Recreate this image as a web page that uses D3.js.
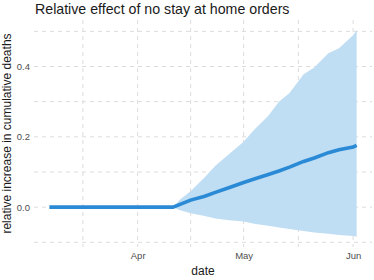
<!DOCTYPE html>
<meta charset="utf-8">
<script src="https://d3js.org/d3.v7.min.js"></script>
<style>
  body { margin: 0; background: #fff; }
  text { font-family: "Liberation Sans", Arial, sans-serif; }
</style>
<div id="chart"></div>
<script>

// data
var dates = ["2020-03-07", "2020-04-11", "2020-04-13", "2020-04-16", "2020-04-20", "2020-04-23",
  "2020-04-27", "2020-05-01", "2020-05-04", "2020-05-08", "2020-05-11", "2020-05-14",
  "2020-05-18", "2020-05-21", "2020-05-25", "2020-05-28", "2020-06-01", "2020-06-02"];
var meanVals  = [0, 0, 0.008, 0.02, 0.031, 0.042, 0.056, 0.07, 0.08, 0.093, 0.103, 0.114,
  0.13, 0.14, 0.155, 0.163, 0.171, 0.176];
var lowerVals = [0, 0, -0.009, -0.017, -0.025, -0.032, -0.037, -0.041, -0.047, -0.053, -0.058, -0.062,
  -0.068, -0.072, -0.076, -0.079, -0.082, -0.084];
var upperVals = [0, 0, 0.022, 0.045, 0.085, 0.118, 0.152, 0.186, 0.22, 0.26, 0.30, 0.325,
  0.378, 0.397, 0.438, 0.452, 0.489, 0.503];
var yTicks = [0.0, 0.2, 0.4];
var yMinor = [-0.1, 0.1, 0.3, 0.5];
var xTicks = ["2020-04-01", "2020-05-01", "2020-06-01"];
var xMinor = ["2020-03-16T12:00", "2020-04-16", "2020-05-16T12:00"];

var parse = function(s) { return new Date(s.length > 10 ? s : s + "T00:00"); };

var data = dates.map(function(d, i) {
  return {date: parse(d), mean: meanVals[i], lo: lowerVals[i], hi: upperVals[i]};
});

var width = 374, height = 280;
var margin = {top: 20, right: 2, bottom: 33, left: 34};

var svg = d3.select("#chart").append("svg")
  .attr("width", width)
  .attr("height", height);

var g = svg.append("g")
  .attr("transform", "translate(" + margin.left + "," + margin.top + ")");

var w = width - margin.left - margin.right,
    h = height - margin.top - margin.bottom;

// ggplot style 5% expansion
var xExt = d3.extent(data, function(d) { return d.date; });
var xPad = (xExt[1] - xExt[0]) * 0.05;
var x = d3.scaleTime()
  .domain([new Date(+xExt[0] - xPad), new Date(+xExt[1] + xPad)])
  .range([0, w]);

var yLo = d3.min(lowerVals), yHi = d3.max(upperVals);
var yPad = (yHi - yLo) * 0.05;
var y = d3.scaleLinear()
  .domain([yLo - yPad, yHi + yPad])
  .range([h, 0]);

// grid
var gridColor = "#dcdcdc";
g.selectAll(".hgrid")
  .data(yTicks.concat(yMinor))
  .enter().append("line")
    .attr("x1", 0).attr("x2", w)
    .attr("y1", function(d) { return y(d); })
    .attr("y2", function(d) { return y(d); })
    .attr("stroke", gridColor)
    .attr("stroke-width", 1)
    .attr("stroke-dasharray", "4,4");

g.selectAll(".vgrid")
  .data(xTicks.concat(xMinor))
  .enter().append("line")
    .attr("y1", 0).attr("y2", h)
    .attr("x1", function(d) { return x(parse(d)); })
    .attr("x2", function(d) { return x(parse(d)); })
    .attr("stroke", gridColor)
    .attr("stroke-width", 1)
    .attr("stroke-dasharray", "4,4");

// ribbon
g.append("path")
  .datum(data)
  .attr("fill", "#bfddf3")
  .attr("d", d3.area()
    .x(function(d) { return x(d.date); })
    .y0(function(d) { return y(d.lo); })
    .y1(function(d) { return y(d.hi); }));

// mean line
g.append("path")
  .datum(data)
  .attr("fill", "none")
  .attr("stroke", "#2a8ad6")
  .attr("stroke-width", 3.6)
  .attr("d", d3.line()
    .x(function(d) { return x(d.date); })
    .y(function(d) { return y(d.mean); }));

// axes (labels only)
var yAxis = g.append("g")
  .call(d3.axisLeft(y).tickValues(yTicks).tickFormat(d3.format(".1f")).tickSize(0).tickPadding(4));
yAxis.select(".domain").remove();
yAxis.selectAll("text").attr("fill", "#4d4d4d").style("font-size", "9.5px");

var xAxis = g.append("g")
  .attr("transform", "translate(0," + h + ")")
  .call(d3.axisBottom(x).tickValues(xTicks.map(parse)).tickFormat(d3.timeFormat("%b")).tickSize(0).tickPadding(5));
xAxis.select(".domain").remove();
xAxis.selectAll("text").attr("fill", "#4d4d4d").style("font-size", "9.5px");

// titles
svg.append("text")
  .attr("x", margin.left + 1)
  .attr("y", 14)
  .style("font-size", "14.2px")
  .attr("fill", "#1a1a1a")
  .text("Relative effect of no stay at home orders");

svg.append("text")
  .attr("x", margin.left + w / 2)
  .attr("y", 275)
  .attr("text-anchor", "middle")
  .style("font-size", "12px")
  .attr("fill", "#1a1a1a")
  .text("date");

svg.append("text")
  .attr("transform", "rotate(-90)")
  .attr("x", -(margin.top + h / 2))
  .attr("y", 11)
  .attr("text-anchor", "middle")
  .style("font-size", "12px")
  .attr("fill", "#1a1a1a")
  .text("relative increase in cumulative deaths");

</script>
